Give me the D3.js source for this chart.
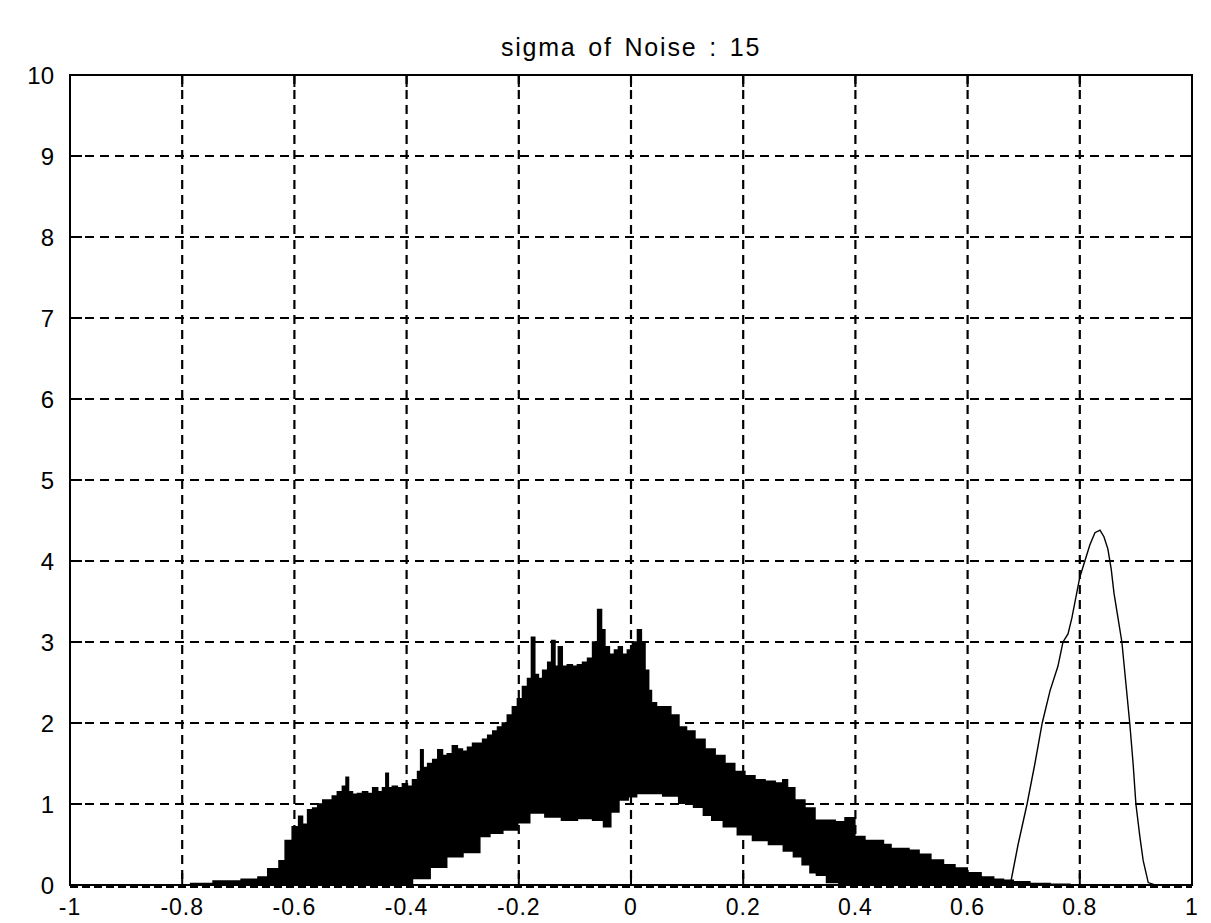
<!DOCTYPE html>
<html>
<head>
<meta charset="utf-8">
<script src="https://cdn.jsdelivr.net/npm/d3@7"></script>
<style>
  html, body { margin: 0; padding: 0; background: #fff; }
  svg { display: block; }
  text { font-family: "Liberation Sans", Arial, sans-serif; fill: #000; }
</style>
</head>
<body>
<svg id="chart" width="1211" height="923"></svg>
<script>
// Axis ticks and labels
const xTicks = [-1, -0.8, -0.6, -0.4, -0.2, 0, 0.2, 0.4, 0.6, 0.8, 1];
const xTickLabels = ["-1", "-0.8", "-0.6", "-0.4", "-0.2", "0", "0.2", "0.4", "0.6", "0.8", "1"];
const yTicks = [0, 1, 2, 3, 4, 5, 6, 7, 8, 9, 10];
const yTickLabels = ["0", "1", "2", "3", "4", "5", "6", "7", "8", "9", "10"];
const chartTitle = "sigma of Noise : 15";

// Impostor histograms: upper envelope of the overlapping curves [x, density]
const impostorUpper = [
  [-0.80,0],[-0.77,0.02],[-0.72,0.05],[-0.67,0.07],[-0.66,0.1],[-0.635,0.2],[-0.62,0.3],
  [-0.613,0.55],[-0.595,0.72],[-0.59,0.85],[-0.581,0.75],[-0.572,0.93],[-0.563,0.95],
  [-0.554,1.0],[-0.545,1.05],[-0.537,1.05],[-0.528,1.1],[-0.519,1.15],[-0.51,1.22],
  [-0.506,1.33],[-0.501,1.15],[-0.492,1.12],[-0.483,1.13],[-0.474,1.15],[-0.465,1.13],
  [-0.456,1.2],[-0.447,1.15],[-0.439,1.2],[-0.435,1.38],[-0.43,1.2],[-0.421,1.22],
  [-0.412,1.2],[-0.403,1.25],[-0.394,1.22],[-0.385,1.3],[-0.376,1.4],[-0.374,1.67],
  [-0.367,1.45],[-0.358,1.5],[-0.349,1.55],[-0.34,1.67],[-0.332,1.6],[-0.323,1.62],
  [-0.314,1.72],[-0.305,1.68],[-0.296,1.65],[-0.287,1.7],[-0.278,1.75],[-0.269,1.75],
  [-0.26,1.8],[-0.251,1.85],[-0.242,1.9],[-0.234,1.95],[-0.225,2.0],[-0.216,2.1],
  [-0.207,2.2],[-0.198,2.3],[-0.189,2.45],[-0.18,2.55],[-0.175,3.06],[-0.168,2.6],
  [-0.162,2.55],[-0.153,2.65],[-0.144,2.75],[-0.139,3.02],[-0.132,2.7],[-0.127,2.94],
  [-0.118,2.7],[-0.109,2.72],[-0.1,2.7],[-0.091,2.72],[-0.082,2.75],[-0.073,2.8],
  [-0.064,3.0],[-0.055,3.4],[-0.05,3.15],[-0.043,2.94],[-0.034,2.85],[-0.025,2.9],
  [-0.02,2.94],[-0.011,2.85],[-0.002,2.9],[0.007,3.0],[0.016,3.15],[0.021,3.0],
  [0.029,2.65],[0.034,2.4],[0.039,2.25],[0.052,2.2],[0.064,2.2],[0.078,2.1],
  [0.093,1.95],[0.105,1.9],[0.123,1.8],[0.141,1.68],[0.159,1.6],[0.176,1.5],
  [0.194,1.4],[0.212,1.35],[0.23,1.3],[0.248,1.28],[0.266,1.26],[0.275,1.3],
  [0.283,1.2],[0.301,1.05],[0.319,0.95],[0.337,0.8],[0.355,0.8],[0.373,0.78],
  [0.39,0.83],[0.408,0.6],[0.426,0.55],[0.444,0.55],[0.456,0.5],[0.471,0.45],
  [0.488,0.45],[0.503,0.43],[0.524,0.38],[0.545,0.31],[0.569,0.25],[0.586,0.21],
  [0.613,0.15],[0.635,0.1],[0.658,0.07],[0.67,0.06],[0.693,0.04],[0.729,0.02],
  [0.765,0.01],[0.8,0]
];

// Lower envelope of the same bundle of curves [x, density]
const impostorLower = [
  [-0.80,0],[-0.403,0],[-0.376,0.08],[-0.34,0.22],[-0.317,0.35],[-0.282,0.4],
  [-0.257,0.6],[-0.246,0.64],[-0.211,0.68],[-0.193,0.77],[-0.168,0.89],[-0.139,0.84],
  [-0.109,0.8],[-0.082,0.82],[-0.055,0.8],[-0.043,0.72],[-0.029,0.9],[-0.014,1.05],
  [0.004,1.09],[0.016,1.13],[0.043,1.13],[0.07,1.1],[0.1,1.01],[0.123,0.96],
  [0.135,0.86],[0.153,0.8],[0.176,0.72],[0.203,0.62],[0.23,0.55],[0.26,0.5],
  [0.283,0.42],[0.296,0.35],[0.314,0.25],[0.324,0.15],[0.337,0.12],[0.36,0.03],
  [0.381,0],[0.8,0]
];

// Genuine-match histogram [x, density]
const genuine = [
  [-1,0],[0.676,0],[0.69,0.5],[0.706,1.0],[0.72,1.5],[0.733,2.0],[0.747,2.4],
  [0.761,2.7],[0.77,3.0],[0.779,3.1],[0.786,3.3],[0.793,3.55],[0.8,3.8],[0.809,4.0],
  [0.818,4.2],[0.827,4.35],[0.836,4.38],[0.843,4.3],[0.85,4.15],[0.856,3.9],
  [0.861,3.6],[0.868,3.3],[0.875,3.0],[0.882,2.5],[0.889,2.0],[0.895,1.5],
  [0.9,1.0],[0.907,0.6],[0.913,0.3],[0.922,0.03],[0.934,0],[1,0]
];

const svg = d3.select("#chart");
const plotLeft = 70, plotRight = 1192, plotTop = 75, plotBottom = 885;

const x = d3.scaleLinear().domain([-1, 1]).range([plotLeft, plotRight]);
const y = d3.scaleLinear().domain([0, 10]).range([plotBottom, plotTop]);

// Dashed grid
const grid = svg.append("g").attr("stroke", "#000").attr("stroke-width", 2.2)
  .attr("stroke-dasharray", "9,6");
grid.selectAll("line.v").data(xTicks.slice(1, -1)).enter().append("line")
  .attr("x1", d => x(d)).attr("x2", d => x(d)).attr("y1", plotTop).attr("y2", plotBottom);
grid.selectAll("line.h").data(yTicks.slice(1, -1)).enter().append("line")
  .attr("x1", plotLeft).attr("x2", plotRight).attr("y1", d => y(d)).attr("y2", d => y(d));

// Bundle of impostor curves, drawn as the band between its envelopes
const stepLine = d3.line().x(d => x(d[0])).y(d => y(d[1])).curve(d3.curveStep);
const band = impostorUpper.concat(impostorLower.slice().reverse());
svg.append("path")
  .attr("d", stepLine(band) + "Z")
  .attr("fill", "#000").attr("stroke", "#000").attr("stroke-width", 1.5)
  .attr("stroke-linejoin", "miter");

// Genuine histogram
const line = d3.line().x(d => x(d[0])).y(d => y(d[1]));
svg.append("path")
  .attr("d", line(genuine))
  .attr("fill", "none").attr("stroke", "#000").attr("stroke-width", 1.4);

// Zero line where all curves sit on the baseline
svg.append("line")
  .attr("x1", plotLeft).attr("x2", plotRight).attr("y1", plotBottom + 2).attr("y2", plotBottom + 2)
  .attr("stroke", "#000").attr("stroke-width", 2).attr("stroke-dasharray", "8,4");

// Axes box with inward ticks
const axes = svg.append("g").attr("stroke", "#000").attr("fill", "none");
axes.append("rect").attr("x", plotLeft).attr("y", plotTop)
  .attr("width", plotRight - plotLeft).attr("height", plotBottom - plotTop).attr("stroke-width", 2);
const tickLen = 12;
xTicks.forEach(t => {
  axes.append("line").attr("x1", x(t)).attr("x2", x(t))
    .attr("y1", plotBottom).attr("y2", plotBottom - tickLen).attr("stroke-width", 2);
  axes.append("line").attr("x1", x(t)).attr("x2", x(t))
    .attr("y1", plotTop).attr("y2", plotTop + tickLen).attr("stroke-width", 2);
});
yTicks.forEach(t => {
  axes.append("line").attr("x1", plotLeft).attr("x2", plotLeft + tickLen)
    .attr("y1", y(t)).attr("y2", y(t)).attr("stroke-width", 2);
  axes.append("line").attr("x1", plotRight).attr("x2", plotRight - tickLen)
    .attr("y1", y(t)).attr("y2", y(t)).attr("stroke-width", 2);
});

// Tick labels
svg.append("g").selectAll("text").data(xTicks).enter().append("text")
  .attr("x", d => x(d)).attr("y", 915)
  .attr("text-anchor", "middle")
  .style("font-size", "23px").style("letter-spacing", "1px")
  .text((d, i) => xTickLabels[i]);

svg.append("g").selectAll("text").data(yTicks).enter().append("text")
  .attr("x", 54).attr("y", d => y(d))
  .attr("text-anchor", "end").attr("dy", "0.36em")
  .style("font-size", "24px")
  .text((d, i) => yTickLabels[i]);

// Title
svg.append("text")
  .attr("x", (plotLeft + plotRight) / 2).attr("y", 56)
  .attr("text-anchor", "middle")
  .style("font-size", "25px").style("letter-spacing", "1.8px").style("word-spacing", "3px")
  .text(chartTitle);
</script>
</body>
</html>
